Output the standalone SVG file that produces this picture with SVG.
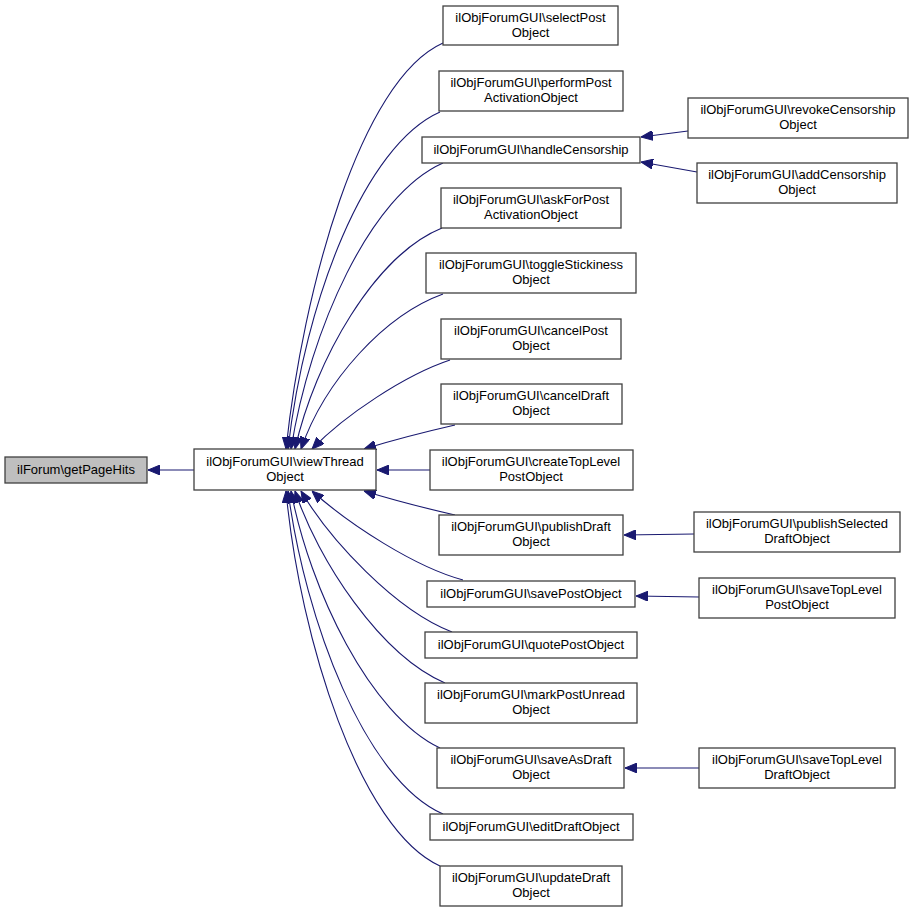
<svg xmlns="http://www.w3.org/2000/svg" width="912" height="912" viewBox="0 0 912 912">
<defs>
<style>
.n rect{fill:#ffffff;stroke:#404040;stroke-width:1.3}
.n.g rect{fill:#bfbfbf}
.n text{font-family:"Liberation Sans",Arial,sans-serif;font-size:13px;fill:#000;text-anchor:middle}
.e path{fill:none;stroke:#191970;stroke-width:1.1;marker-end:url(#ah)}
</style>
<marker id="ah" markerUnits="userSpaceOnUse" markerWidth="12" markerHeight="10" refX="12" refY="5" orient="auto">
<path d="M0,0 L12,5 L0,10 z" fill="#191970" stroke="#191970" stroke-width="1"/>
</marker>
</defs>
<rect width="912" height="912" fill="#ffffff"/>
<g id="connectors" class="e">
<path d="M194,470 L148,470"/>
<path d="M443,43 C360,80 303,290 286,449"/>
<path d="M440,112 C365,145 305,300 288,449"/>
<path d="M443,163 C370,195 310,330 291,449"/>
<path d="M442,228 C375,255 315,360 295,449"/>
<path d="M443,294 C385,315 325,380 301,449"/>
<path d="M450,360 C405,375 345,415 312,449"/>
<path d="M455,425 C420,433 390,441 364,449"/>
<path d="M431,470 L377,470"/>
<path d="M455,515 C420,507 390,499 364,491"/>
<path d="M463,580 C415,567 350,525 312,491"/>
<path d="M452,632 C395,610 330,540 301,491"/>
<path d="M445,683 C380,655 318,560 295,491"/>
<path d="M440,748 C370,715 310,590 291,491"/>
<path d="M443,814 C365,780 305,620 288,491"/>
<path d="M440,866 C360,830 300,640 286,491"/>
<path d="M688,131 L641,137"/>
<path d="M697,172 L641,162"/>
<path d="M694,534 L624,535"/>
<path d="M699,597 L636,596"/>
<path d="M699,768 L625,768"/>
</g>
<g id="getPageHits" class="n g"><rect x="5" y="457" width="142" height="26"/><text x="76" y="474">ilForum\getPageHits</text></g>
<g id="viewThread" class="n"><rect x="194" y="449" width="182" height="41"/><text x="285" y="466">ilObjForumGUI\viewThread</text><text x="285" y="481">Object</text></g>
<g id="selectPost" class="n"><rect x="443" y="6" width="175" height="39"/><text x="530.5" y="22">ilObjForumGUI\selectPost</text><text x="530.5" y="37">Object</text></g>
<g id="performPost" class="n"><rect x="439" y="71" width="184" height="40"/><text x="531" y="87">ilObjForumGUI\performPost</text><text x="531" y="102">ActivationObject</text></g>
<g id="handleCensorship" class="n"><rect x="422" y="137" width="218" height="26"/><text x="531" y="154">ilObjForumGUI\handleCensorship</text></g>
<g id="askForPost" class="n"><rect x="441" y="188" width="180" height="40"/><text x="531" y="204">ilObjForumGUI\askForPost</text><text x="531" y="219">ActivationObject</text></g>
<g id="toggleStickiness" class="n"><rect x="426" y="253" width="210" height="40"/><text x="531" y="269">ilObjForumGUI\toggleStickiness</text><text x="531" y="284">Object</text></g>
<g id="cancelPost" class="n"><rect x="441" y="319" width="180" height="40"/><text x="531" y="335">ilObjForumGUI\cancelPost</text><text x="531" y="350">Object</text></g>
<g id="cancelDraft" class="n"><rect x="441" y="384" width="181" height="40"/><text x="531" y="400">ilObjForumGUI\cancelDraft</text><text x="531" y="415">Object</text></g>
<g id="createTopLevel" class="n"><rect x="430" y="450" width="203" height="40"/><text x="531" y="466">ilObjForumGUI\createTopLevel</text><text x="531" y="481">PostObject</text></g>
<g id="publishDraft" class="n"><rect x="439" y="515" width="184" height="40"/><text x="531" y="531">ilObjForumGUI\publishDraft</text><text x="531" y="546">Object</text></g>
<g id="savePost" class="n"><rect x="427" y="581" width="208" height="26"/><text x="531" y="598">ilObjForumGUI\savePostObject</text></g>
<g id="quotePost" class="n"><rect x="425" y="632" width="212" height="26"/><text x="531" y="649">ilObjForumGUI\quotePostObject</text></g>
<g id="markPostUnread" class="n"><rect x="425" y="683" width="212" height="40"/><text x="531" y="699">ilObjForumGUI\markPostUnread</text><text x="531" y="714">Object</text></g>
<g id="saveAsDraft" class="n"><rect x="437" y="748" width="187" height="40"/><text x="531" y="764">ilObjForumGUI\saveAsDraft</text><text x="531" y="779">Object</text></g>
<g id="editDraft" class="n"><rect x="430" y="814" width="203" height="26"/><text x="531" y="831">ilObjForumGUI\editDraftObject</text></g>
<g id="updateDraft" class="n"><rect x="440" y="866" width="182" height="40"/><text x="531" y="882">ilObjForumGUI\updateDraft</text><text x="531" y="897">Object</text></g>
<g id="revokeCensorship" class="n"><rect x="688" y="98" width="220" height="40"/><text x="798" y="114">ilObjForumGUI\revokeCensorship</text><text x="798" y="129">Object</text></g>
<g id="addCensorship" class="n"><rect x="697" y="163" width="200" height="40"/><text x="797" y="179">ilObjForumGUI\addCensorship</text><text x="797" y="194">Object</text></g>
<g id="publishSelected" class="n"><rect x="694" y="512" width="206" height="40"/><text x="797" y="528">ilObjForumGUI\publishSelected</text><text x="797" y="543">DraftObject</text></g>
<g id="saveTopLevelPost" class="n"><rect x="699" y="578" width="196" height="40"/><text x="797" y="594">ilObjForumGUI\saveTopLevel</text><text x="797" y="609">PostObject</text></g>
<g id="saveTopLevelDraft" class="n"><rect x="699" y="748" width="196" height="40"/><text x="797" y="764">ilObjForumGUI\saveTopLevel</text><text x="797" y="779">DraftObject</text></g>
</svg>
